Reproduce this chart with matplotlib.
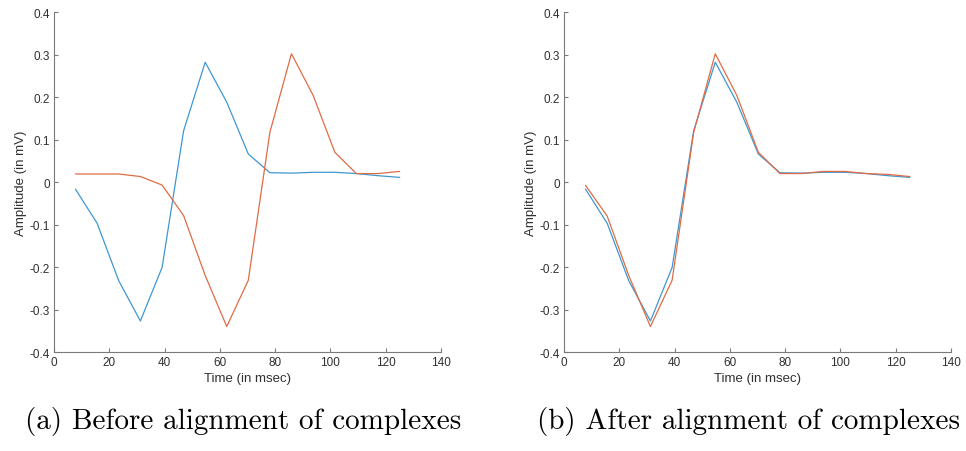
"""Before/after alignment of two QRS complexes."""
import matplotlib.pyplot as plt
from matplotlib.ticker import FuncFormatter

plt.rcParams['font.family'] = ['Liberation Sans', 'DejaVu Sans']
plt.rcParams['axes.unicode_minus'] = False

# sample times (ms)
t_ms = [7.8, 15.6, 23.4, 31.25, 39.1, 46.9, 54.7, 62.5,
        70.3, 78.1, 85.9, 93.75, 101.6, 109.4, 117.2, 125.0]

# complex 1 (blue), same in both panels
blue = [-0.017, -0.097, -0.232, -0.327, -0.201, 0.121, 0.282, 0.188,
        0.066, 0.022, 0.021, 0.023, 0.023, 0.020, 0.015, 0.011]

# complex 2 (red), before alignment
red_before = [0.019, 0.019, 0.019, 0.013, -0.007, -0.079, -0.220, -0.340,
              -0.231, 0.117, 0.302, 0.204, 0.070, 0.020, 0.020, 0.025]

# complex 2 (red), after alignment
red_after = [-0.008, -0.080, -0.220, -0.340, -0.231, 0.117, 0.302, 0.204,
             0.070, 0.020, 0.020, 0.025, 0.025, 0.020, 0.018, 0.013]

captions = ['(a) Before alignment of complexes', '(b) After alignment of complexes']
caption_x = [0.252, 0.775]

BLUE = '#3f97d2'
RED = '#df6c45'

fig = plt.figure(figsize=(9.66, 4.52), dpi=100)
fig.patch.set_facecolor('white')

ax_a = fig.add_axes([0.0559, 0.219, 0.4006, 0.752])
ax_b = fig.add_axes([0.5839, 0.219, 0.4006, 0.752])

fmt = FuncFormatter(lambda v, p: '0' if abs(v) < 1e-9 else f'{v:.1f}')

for ax, red, cap, cx in zip([ax_a, ax_b], [red_before, red_after], captions, caption_x):
    ax.plot(t_ms, blue, color=BLUE, lw=0.9)
    ax.plot(t_ms, red, color=RED, lw=0.9)
    ax.set_xlim(0, 140)
    ax.set_ylim(-0.4, 0.4)
    ax.set_xticks(range(0, 141, 20))
    ax.set_yticks([-0.4, -0.3, -0.2, -0.1, 0, 0.1, 0.2, 0.3, 0.4])
    ax.yaxis.set_major_formatter(fmt)
    for s in ['top', 'right']:
        ax.spines[s].set_visible(False)
    for s in ['left', 'bottom']:
        ax.spines[s].set_color('#7a7a7a')
        ax.spines[s].set_linewidth(0.8)
    ax.tick_params(direction='in', length=3, width=0.8, color='#7a7a7a',
                   labelsize=8.5, labelcolor='#303030', pad=3)
    ax.set_xlabel('Time (in msec)', fontsize=9.5, color='#303030', labelpad=3)
    ax.set_ylabel('Amplitude (in mV)', fontsize=9.5, color='#303030', labelpad=2)

    # caption below the panel
    fig.text(cx, 0.068, cap, ha='center', va='center',
             fontsize=21, family='cmr10', color='black')

plt.savefig('out.png', dpi=100, facecolor='white')
